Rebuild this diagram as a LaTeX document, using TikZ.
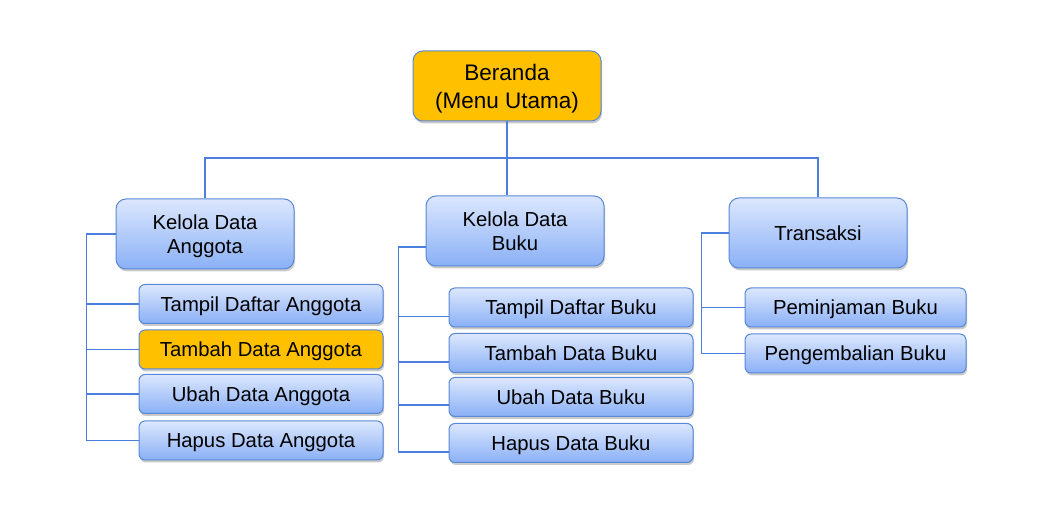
\documentclass[tikz,border=0pt]{standalone}
\usepackage{fontspec}
\setmainfont{Liberation Sans}
\usetikzlibrary{shadows,calc}
\definecolor{gold}{RGB}{255,192,0}
\definecolor{linkblue}{RGB}{74,126,223}
\definecolor{edgeblue}{RGB}{88,136,216}
\definecolor{topblue}{RGB}{220,231,253}
\definecolor{botblue}{RGB}{138,176,246}
\tikzset{
  boxbase/.style={draw=edgeblue, line width=1pt, align=center, inner sep=0pt,
    text depth=0pt,
    font=\fontsize{20.3}{24}\selectfont,
    drop shadow={shadow xshift=1pt, shadow yshift=-2.5pt, opacity=0.35, fill=black!60}},
  bluebox/.style={boxbase, top color=topblue, bottom color=botblue},
  goldbox/.style={boxbase, fill=gold},
  bigbox/.style={rounded corners=10pt, minimum width=178pt, minimum height=70pt},
  smallbox/.style={rounded corners=6pt, minimum width=244pt, minimum height=39pt},
  link/.style={draw=linkblue, line width=1.5pt},
}
\begin{document}
\begin{tikzpicture}[x=1pt,y=-1pt]
\useasboundingbox (0,0) rectangle (1037,510);

% top
\node[goldbox, bigbox, minimum width=188pt, font=\fontsize{22.5}{28}\selectfont] (ber) at (507,86) {Beranda\\(Menu Utama)};

% level 1
\node[bluebox, bigbox] (ka) at (205,234) {Kelola Data\\Anggota};
\node[bluebox, bigbox] (kb) at (515,231) {Kelola Data\\Buku};
\node[bluebox, bigbox] (tr) at (818,233) {Transaksi};

% anggota
\node[bluebox, smallbox] (a1) at (261,304) {Tampil Daftar Anggota};
\node[goldbox, smallbox] (a2) at (261,349.5) {Tambah Data Anggota};
\node[bluebox, smallbox] (a3) at (261,394) {Ubah Data Anggota};
\node[bluebox, smallbox] (a4) at (261,440.5) {Hapus Data Anggota};

% buku
\node[bluebox, smallbox] (b1) at (571,307.5) {Tampil Daftar Buku};
\node[bluebox, smallbox] (b2) at (571,353) {Tambah Data Buku};
\node[bluebox, smallbox] (b3) at (571,397) {Ubah Data Buku};
\node[bluebox, smallbox] (b4) at (571,443) {Hapus Data Buku};

% transaksi
\node[bluebox, smallbox, minimum width=221pt] (t1) at (855.5,307.5) {Peminjaman Buku};
\node[bluebox, smallbox, minimum width=221pt] (t2) at (855.5,353.5) {Pengembalian Buku};

% connectors top
\coordinate (bus) at (507,158);
\draw[link] (ber.south) -- (ber.south |- kb.north);
\draw[link, line width=1.2pt] (ka.north) |- (bus) -| (tr.north);

% anggota trunk
\draw[link] (ka.west) -| ($(a4.west)+(-52,0)$) -- (a4.west);
\draw[link] (a1.west) -- ++(-52,0);
\draw[link] (a2.west) -- ++(-52,0);
\draw[link] (a3.west) -- ++(-52,0);

% buku trunk
\draw[link] ([yshift=-16pt]kb.west) -| ($([yshift=-9pt]b4.west)+(-50,0)$) -- ([yshift=-9pt]b4.west);
\draw[link] ([yshift=-9pt]b1.west) -- ++(-50,0);
\draw[link] ([yshift=-9pt]b2.west) -- ++(-50,0);
\draw[link] ([yshift=-8pt]b3.west) -- ++(-50,0);

% transaksi trunk
\draw[link] (tr.west) -| ($(t2.west)+(-43,0)$) -- (t2.west);
\draw[link] (t1.west) -- ++(-43,0);
\end{tikzpicture}
\end{document}
